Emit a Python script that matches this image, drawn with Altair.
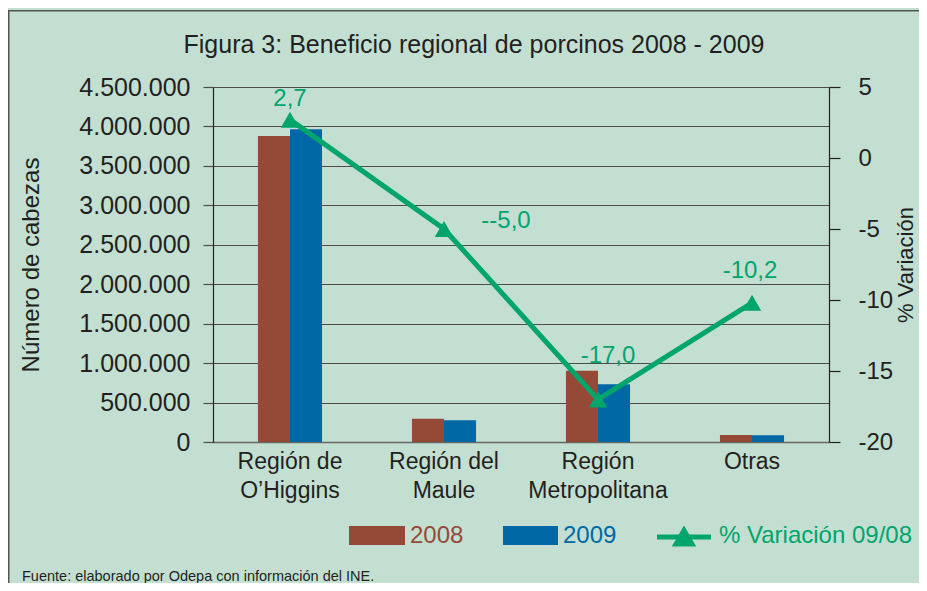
import altair as alt
import pandas as pd

# ---------------- data ----------------
categories = ["Región de O’Higgins", "Región del Maule", "Región Metropolitana", "Otras"]
years = ["2008", "2009"]
heads_2008 = [3880000, 296000, 903000, 90000]
heads_2009 = [3966000, 276000, 733000, 85000]
variation = [2.7, -5.0, -17.0, -10.2]
variation_labels = ["2,7", "--5,0", "-17,0", "-10,2"]
left_ticks = [0, 500000, 1000000, 1500000, 2000000, 2500000, 3000000, 3500000, 4000000, 4500000]
right_ticks = [-20, -15, -10, -5, 0, 5]

title_text = "Figura 3: Beneficio regional de porcinos 2008 - 2009"
source_text = "Fuente: elaborado por Odepa con información del INE."
line_name = "% Variación 09/08"

# ---------------- styling ----------------
BG = "#c3dfd2"
BROWN = "#954a37"
BLUE = "#0068a4"
GREEN = "#00a56c"
TXT = "#231f20"
FONT = "Liberation Sans"
W, H = 616, 355

bars_df = pd.DataFrame({
    "Región": categories * 2,
    "Año": [years[0]] * 4 + [years[1]] * 4,
    "Cabezas": heads_2008 + heads_2009,
})
line_df = pd.DataFrame({"Región": categories, "Variación": variation, "Etiqueta": variation_labels})

x_enc = alt.X(
    "Región:N",
    sort=categories,
    scale=alt.Scale(domain=categories, paddingInner=0.584, paddingOuter=0.292),
    axis=alt.Axis(
        title=None, labelAngle=0, ticks=False, grid=False,
        domainColor="#666666", domainWidth=1.5,
        labelFont=FONT, labelFontSize=23, labelColor=TXT,
        labelPadding=8, labelLineHeight=29, labelBaseline="top",
        labelExpr="lastindexof(datum.label, ' ') > 0 ? [substring(datum.label, 0, lastindexof(datum.label, ' ')), substring(datum.label, lastindexof(datum.label, ' ') + 1)] : datum.label",
    ),
)

bars = alt.Chart(bars_df).mark_bar(stroke=None).encode(
    x=x_enc,
    xOffset=alt.XOffset("Año:N", sort=years, scale=alt.Scale(domain=years, paddingInner=0, paddingOuter=0)),
    y=alt.Y(
        "Cabezas:Q",
        scale=alt.Scale(domain=[0, 4500000], nice=False, zero=True),
        axis=alt.Axis(
            values=left_ticks, format=",d", title="Número de cabezas",
            grid=True, gridColor="#4d4d4d", gridWidth=1.2,
            domainColor="#222222", domainWidth=1.2,
            tickColor="#4d4d4d", tickSize=10, tickWidth=1.2,
            labelFont=FONT, labelFontSize=25, labelColor=TXT, labelPadding=13,
            titleFont=FONT, titleFontSize=24, titleFontWeight="normal", titleColor=TXT,
            titlePadding=35,
        ),
    ),
    color=alt.Color("Año:N", scale=alt.Scale(domain=years, range=[BROWN, BLUE]), legend=None),
)

y_right = alt.Y(
    "Variación:Q",
    scale=alt.Scale(domain=[-20, 5], nice=False, zero=False),
    axis=alt.Axis(
        orient="right", values=right_ticks, grid=False, title="% Variación",
        labelExpr="'' + datum.value",
        domainColor="#222222", domainWidth=1.2,
        tickColor="#222222", tickSize=11, tickWidth=1.2,
        labelFont=FONT, labelFontSize=24, labelColor=TXT, labelPadding=18,
        titleFont=FONT, titleFontSize=22, titleFontWeight="normal", titleColor=TXT,
        titleAngle=270, titleBaseline="top", titlePadding=3,
    ),
)

line = alt.Chart(line_df).mark_line(
    color=GREEN, strokeWidth=5,
    point=alt.OverlayMarkDef(shape="triangle-up", filled=True, size=340, color=GREEN, opacity=1),
).encode(x=alt.X("Región:N", sort=categories), y=y_right)

label_offsets = [(0, -21), (62, -8), (10, -43), (-2, -32)]
label_layers = []
for cat, (dx, dy) in zip(categories, label_offsets):
    label_layers.append(
        alt.Chart(line_df).transform_filter(alt.datum["Región"] == cat).mark_text(
            font=FONT, fontSize=24, color=GREEN, dx=dx, dy=dy, baseline="middle", align="center",
        ).encode(x=alt.X("Región:N", sort=categories), y=alt.Y("Variación:Q"), text="Etiqueta:N")
    )

right = alt.layer(line, *label_layers)

one = pd.DataFrame({"k": [0]})
deco = alt.Chart(one)

border = deco.mark_rect(fill=None, stroke="#555555", strokeWidth=1.5).encode(
    x=alt.value(-204.25), x2=alt.value(760), y=alt.value(-76.25), y2=alt.value(540))
title = deco.mark_text(font=FONT, fontSize=25, color=TXT, align="center", baseline="middle").encode(
    x=alt.value(261), y=alt.value(-42), text=alt.value(title_text))
source = deco.mark_text(font=FONT, fontSize=14.5, color=TXT, align="left", baseline="middle").encode(
    x=alt.value(-191), y=alt.value(490), text=alt.value(source_text))

leg_b = deco.mark_rect(color=BROWN).encode(x=alt.value(136), x2=alt.value(192), y=alt.value(439), y2=alt.value(458))
leg_bt = deco.mark_text(font=FONT, fontSize=24, color=BROWN, align="left", baseline="middle").encode(
    x=alt.value(197), y=alt.value(449), text=alt.value(years[0]))
leg_u = deco.mark_rect(color=BLUE).encode(x=alt.value(290), x2=alt.value(345), y=alt.value(439), y2=alt.value(458))
leg_ut = deco.mark_text(font=FONT, fontSize=24, color=BLUE, align="left", baseline="middle").encode(
    x=alt.value(350), y=alt.value(449), text=alt.value(years[1]))
leg_l = deco.mark_rule(color=GREEN, strokeWidth=5).encode(
    x=alt.value(444), x2=alt.value(498), y=alt.value(450))
leg_p = deco.mark_point(shape="triangle-up", filled=True, size=600, color=GREEN, opacity=1).encode(
    x=alt.value(471), y=alt.value(449))
leg_lt = deco.mark_text(font=FONT, fontSize=24, color=GREEN, align="left", baseline="middle").encode(
    x=alt.value(506), y=alt.value(449), text=alt.value(line_name))

chart = alt.layer(
    bars, right, border, title, source, leg_b, leg_bt, leg_u, leg_ut, leg_l, leg_p, leg_lt
).resolve_scale(y="independent").properties(
    width=W, height=H,
    autosize=alt.AutoSizeParams(type="none"),
    padding={"left": 205, "top": 79, "right": 90, "bottom": 141},
    background=BG,
).configure_view(stroke=None).configure(
    locale={"number": {"decimal": ",", "thousands": ".", "grouping": [3], "currency": ["$", ""], "minus": "-"}}
)

chart.save("out.html", embed_options={"renderer": "svg", "actions": False})
